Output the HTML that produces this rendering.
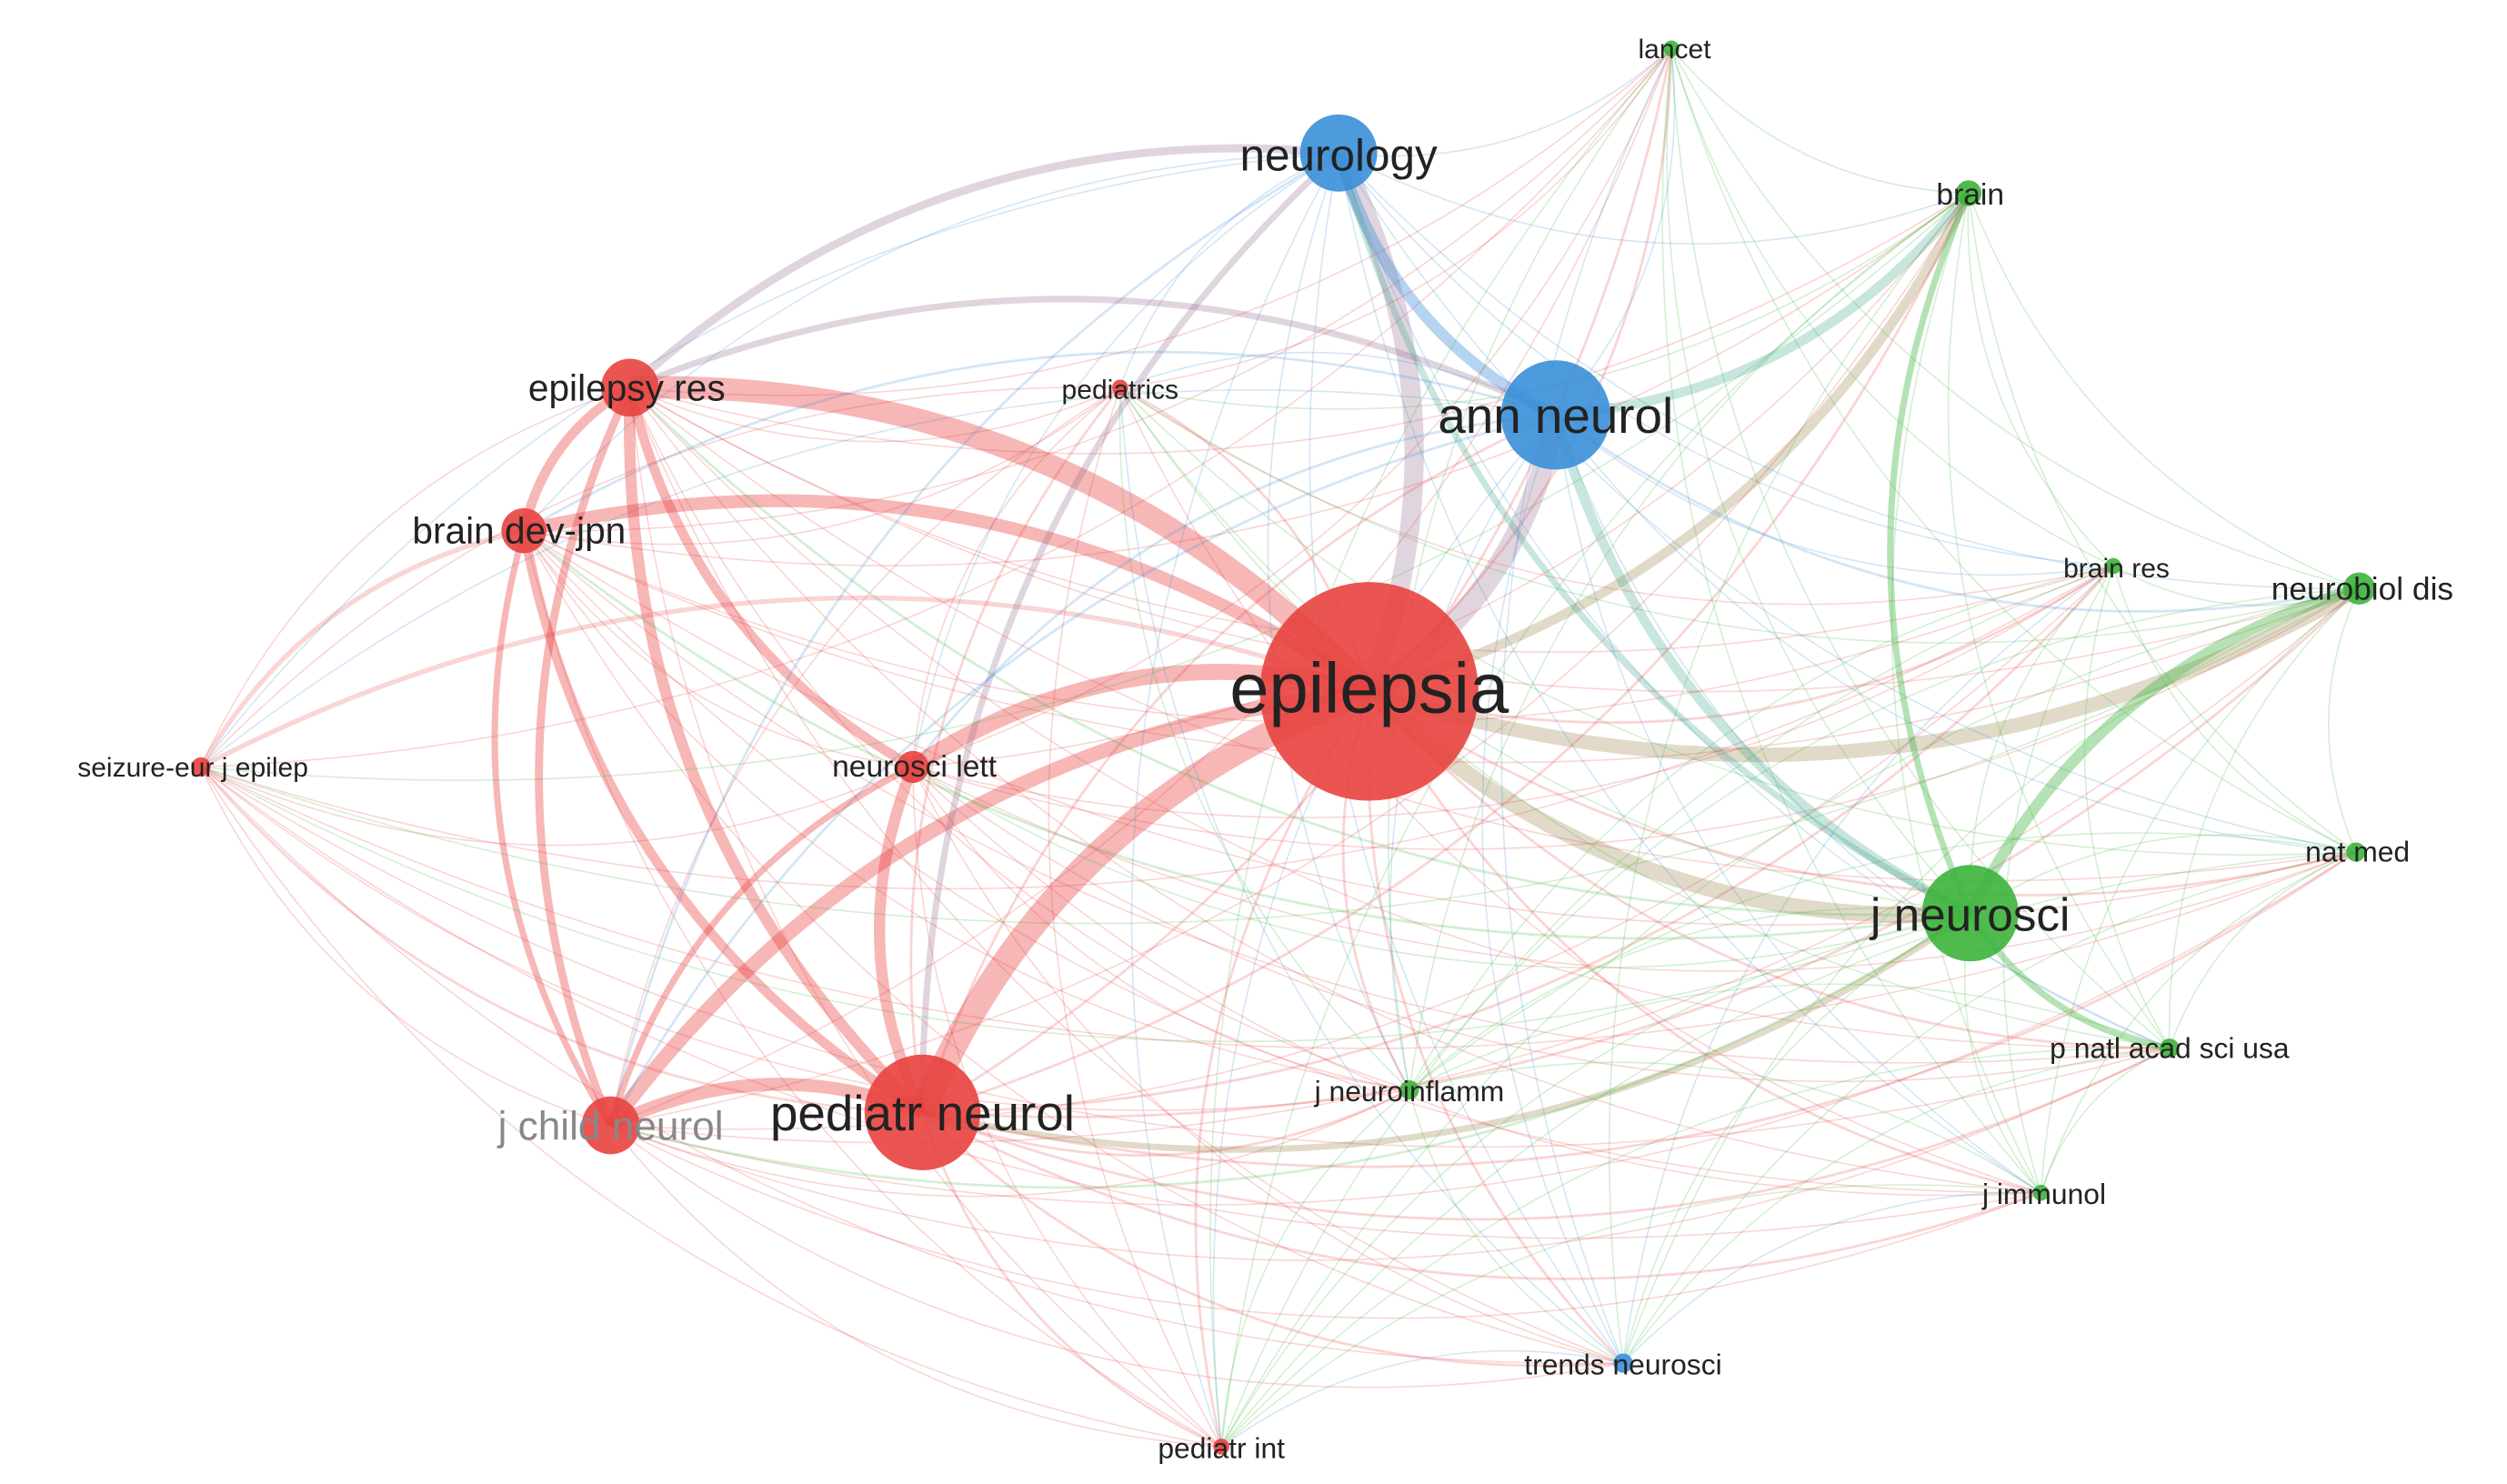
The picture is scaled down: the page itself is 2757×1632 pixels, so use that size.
<!DOCTYPE html>
<html><head><meta charset="utf-8">
<style>
html,body{margin:0;padding:0;background:#fff;}
svg{display:block;}
text{font-family:"Liberation Sans","DejaVu Sans",sans-serif;fill:#222;}
</style></head>
<body>
<svg id="s" width="2757" height="1632" viewBox="0 0 1560 923" xmlns="http://www.w3.org/2000/svg">
<g id="edges"></g>
<g id="nodes"></g>
<g id="labels">
<text x="852" y="443" font-size="44" text-anchor="middle">epilepsia</text>
<text x="833" y="106" font-size="28" text-anchor="middle">neurology</text>
<text x="968" y="269" font-size="31" text-anchor="middle">ann neurol</text>
<text x="390" y="249" font-size="23" text-anchor="middle">epilepsy res</text>
<text x="323" y="338" font-size="23" text-anchor="middle">brain dev-jpn</text>
<text x="697" y="248" font-size="17" text-anchor="middle">pediatrics</text>
<text x="120" y="483" font-size="17" text-anchor="middle">seizure-eur j epilep</text>
<text x="569" y="483" font-size="19" text-anchor="middle">neurosci lett</text>
<text x="574" y="703" font-size="31" text-anchor="middle">pediatr neurol</text>
<text x="380" y="709" font-size="25" text-anchor="middle" style="fill:#888">j child neurol</text>
<text x="1042" y="36" font-size="17" text-anchor="middle">lancet</text>
<text x="1226" y="127" font-size="19" text-anchor="middle">brain</text>
<text x="1317" y="359" font-size="17" text-anchor="middle">brain res</text>
<text x="1470" y="373" font-size="20" text-anchor="middle">neurobiol dis</text>
<text x="1467" y="536" font-size="18" text-anchor="middle">nat med</text>
<text x="1226" y="579" font-size="29" text-anchor="middle">j neurosci</text>
<text x="1350" y="658" font-size="18" text-anchor="middle">p natl acad sci usa</text>
<text x="1272" y="749" font-size="18" text-anchor="middle">j immunol</text>
<text x="877" y="685" font-size="18" text-anchor="middle">j neuroinflamm</text>
<text x="1010" y="855" font-size="18" text-anchor="middle">trends neurosci</text>
<text x="760" y="907" font-size="18" text-anchor="middle">pediatr int</text>
</g>
</svg>
<script>
var R='#e8423f',B='#3a8fd8',G='#3cb43c';
var N={
ep:[852,430,68,R],ne:[833,95,24,B],an:[968,258,34,B],er:[392,241,18,R],bd:[326,330,14,R],
pe:[697,241,5,R],se:[125,477,6,R],nl:[568,477,10,R],pn:[574,692,36,R],jc:[380,700,18,R],
la:[1040,30,5,G],br:[1225,120,8,G],brs:[1315,352,5,G],nd:[1468,366,10,G],nm:[1466,530,6,G],
jn:[1226,568,30,G],pna:[1350,652,6,G],ji:[1270,742,5,G],jni:[877,678,6,G],tn:[1010,848,6,B],pi:[760,900,5,R]};
var thick={'ep-pn':16,'ep-er':14,'ep-nl':10,'ep-an':13,'ep-ne':12,'ep-jn':10,'ep-nd':9,'ep-bd':8,'ep-jc':9,
'pn-jc':8,'er-bd':6,'er-pn':7,'bd-pn':6,'er-nl':6,'nl-pn':7,'ne-an':7,'an-jn':6,'an-br':6,'jn-nd':7,'ne-er':5,
'ep-br':6,'jn-br':4,'jn-pna':4,'ne-jn':4,'an-er':4,'pn-jn':4,'jc-bd':4,'jc-nl':4,'ep-se':3,'se-bd':3,'er-jc':5,'pn-ne':4};
var ks=Object.keys(N),e=document.getElementById('edges'),ns='http://www.w3.org/2000/svg';
function mix(a,b){if(a==b)return a;var p=function(c){return[parseInt(c.substr(1,2),16),parseInt(c.substr(3,2),16),parseInt(c.substr(5,2),16)]};var x=p(a),y=p(b);return 'rgb('+((x[0]+y[0])>>1)+','+((x[1]+y[1])>>1)+','+((x[2]+y[2])>>1)+')';}
for(var i=0;i<ks.length;i++)for(var j=i+1;j<ks.length;j++){
 var a=N[ks[i]],b=N[ks[j]],k1=ks[i]+'-'+ks[j],k2=ks[j]+'-'+ks[i];
 var w=thick[k1]||thick[k2]||(a[2]+b[2]>40?1.6:0.9);
 var dx=b[0]-a[0],dy=b[1]-a[1];
 var mx=(a[0]+b[0])/2-dy*0.22,my=(a[1]+b[1])/2+dx*0.22;
 var p=document.createElementNS(ns,'path');
 var col=w>3?mix(a[3],b[3]):(a[2]>=b[2]?a[3]:b[3]);
 p.setAttribute('d','M'+a[0]+','+a[1]+' Q'+mx+','+my+' '+b[0]+','+b[1]);
 p.setAttribute('fill','none');p.setAttribute('stroke',col);
 p.setAttribute('stroke-width',w);p.setAttribute('stroke-opacity',w>3?(a[3]==b[3]?0.38:0.28):0.22);
 e.appendChild(p);}
var g=document.getElementById('nodes');
ks.forEach(function(k){var n=N[k],c=document.createElementNS(ns,'circle');
c.setAttribute('cx',n[0]);c.setAttribute('cy',n[1]);c.setAttribute('r',n[2]);c.setAttribute('fill',n[3]);c.setAttribute('fill-opacity',0.9);g.appendChild(c);});
</script>
</body></html>
